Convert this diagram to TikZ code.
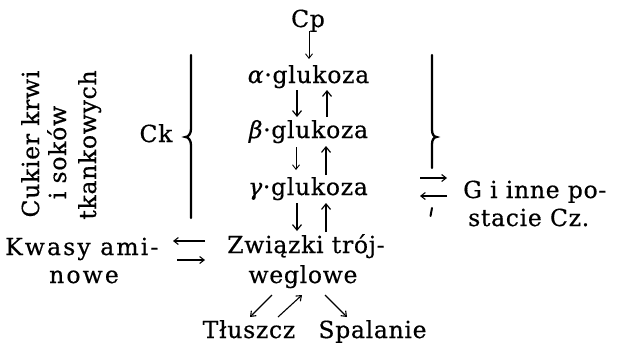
\documentclass[tikz,border=0pt]{standalone}
\usepackage{fontspec}
\setmainfont{DejaVu Serif}[LetterSpace=3,FakeBold=0.5]
\usetikzlibrary{arrows.meta,calc}
\begin{document}
\begin{tikzpicture}[x=1pt,y=-1pt,
  txt/.style={inner sep=0pt,anchor=base,font=\fontsize{23.5}{28}\selectfont},
  wide/.style={font=\fontsize{23.5}{28}\selectfont\addfontfeature{LetterSpace=9}},
  arr/.style={line width=1.4pt,-{Straight Barb[length=5.5pt,width=9pt,line width=1.2pt]}},
  thinarr/.style={line width=0.9pt,-{Straight Barb[length=4.5pt,width=7pt]}},
  brace/.style={line width=2.3pt,line cap=round}]
\useasboundingbox (0,0) rectangle (620,346);
% texts
\node[txt] (cp) at (308,27) {Cp};
\node[txt] (a) at (308.5,83) {\textit{α}·glukoza};
\node[txt] (b) at (308.5,138) {\textit{β}·glukoza};
\node[txt] (g) at (308,195) {\textit{γ}·glukoza};
\node[txt] (z1) at (306,253) {Związki trój-};
\node[txt] (z2) at (303,283) {weglowe};
\node[txt] (t) at (249,338) {Tłuszcz};
\node[txt] (s) at (372.5,338) {Spalanie};
\node[txt,wide,anchor=base west] (k1) at (5,255) {Kwasy ami-};
\node[txt,wide] (k2) at (84,283) {nowe};
\node[txt,anchor=base west] (g1) at (463,198) {G i inne po-};
\node[txt,anchor=base west] (g2) at (468,226) {stacie Cz.};
\node[txt] (ck) at (156,142) {Ck};
\node[txt,rotate=90] (c1) at (39,144) {Cukier krwi};
\node[txt,rotate=90] (c2) at (66,152.5) {i soków};
\node[txt,rotate=90] (c3) at (96,145) {tkankowych};
% braces
\draw[brace] (191,55) -- (191,129) .. controls (191,134) and (188,137) .. (185.5,137) .. controls (188,137) and (191,140) .. (191,145) -- (191,218);
\draw[brace] (432,55) -- (432,130) .. controls (432,134) and (434,137) .. (436.5,137) .. controls (434,137) and (432,140) .. (432,144) -- (432,168);
\draw[line width=2pt,line cap=round] (432,208) -- (430.5,216);
% vertical arrows
\draw[thinarr] ($(cp.base)+(1,4)$) -- ($(a.base)+(0.5,-24)$);
\draw[arr] ($(a.base)+(-11.5,7)$) -- ($(b.base)+(-11.5,-21)$);
\draw[arr] ($(b.base)+(18.5,-21)$) -- ($(a.base)+(18.5,7)$);
\draw[thinarr] ($(b.base)+(-12.5,9)$) -- ($(g.base)+(-12,-25)$);
\draw[arr] ($(g.base)+(18,-20)$) -- ($(b.base)+(17.5,8)$);
\draw[arr] ($(g.base)+(-11,8)$) -- ($(z1.base)+(-9,-22)$);
\draw[arr] ($(z1.base)+(20,-21)$) -- ($(g.base)+(18,8)$);
% horizontal arrows
\draw[thinarr,line width=1.1pt] ($(z1.base)+(-101,-12)$) -- ($(k1.base west)+(168,-14)$);
\draw[thinarr,line width=1.1pt] ($(k1.base west)+(172,5)$) -- ($(z1.base)+(-101,7)$);
\draw[thinarr,line width=1.1pt] ($(g.base)+(112,-17)$) -- ($(g1.base west)+(-16,-20)$);
\draw[thinarr,line width=1.1pt] ($(g1.base west)+(-16,-2)$) -- ($(g.base)+(112,1)$);
% diagonal arrows
\draw[thinarr,line width=1.1pt] ($(z2.base)+(-31,12)$) -- ($(t.base)+(1,-21)$);
\draw[thinarr,line width=1.1pt] ($(t.base)+(29,-21)$) -- ($(z2.base)+(-1,12)$);
\draw[thinarr,line width=1.1pt] ($(z2.base)+(22,12)$) -- ($(s.base)+(-25.5,-21)$);
\end{tikzpicture}
\end{document}
